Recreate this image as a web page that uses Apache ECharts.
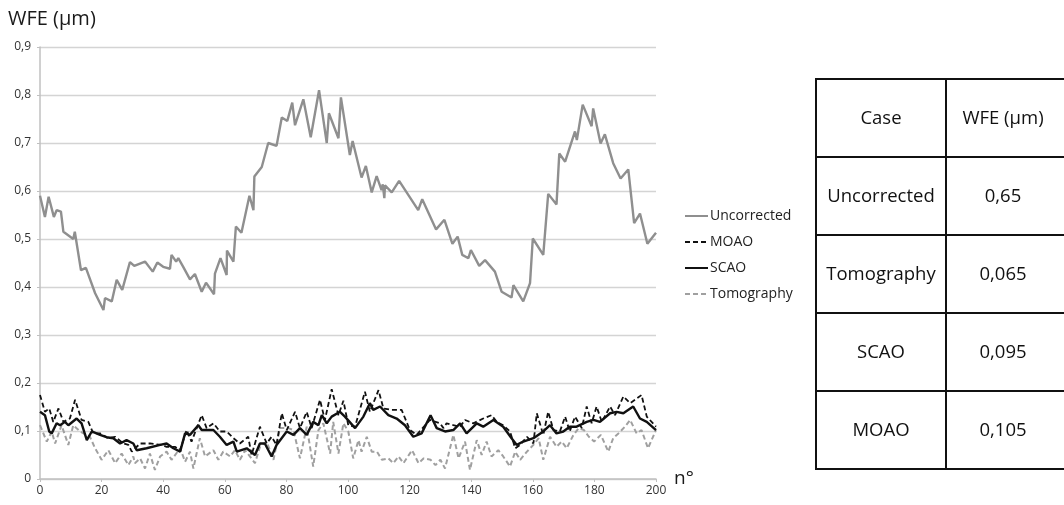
<!DOCTYPE html>
<html>
<head>
<meta charset="utf-8">
<script src="https://cdn.jsdelivr.net/npm/echarts@6/dist/echarts.min.js"></script>
<style>
html,body{margin:0;padding:0;background:#fff;}
#chart{width:1064px;height:505px;}
</style>
</head>
<body>
<div id="chart"></div>
<script>
// ---- data ----
var seriesNames = ['Uncorrected', 'MOAO', 'SCAO', 'Tomography'];
var xTicks = [0, 20, 40, 60, 80, 100, 120, 140, 160, 180, 200];
var yTicks = [0, 0.1, 0.2, 0.3, 0.4, 0.5, 0.6, 0.7, 0.8, 0.9];

var uncorrectedX = [0,1.6,2.8,4.5,5.4,6.8,7.6,10.8,11.3,13.3,14.9,17.9,20.6,21.1,23.3,24.9,26.7,29.2,30.6,34.1,36.6,38.1,40,42.2,42.7,44.2,44.9,46.5,48.7,50.3,52.5,53.9,56.5,56.8,58.6,60.6,60.7,62.8,63.6,65.4,68,69.3,69.6,72,74.1,76.8,78.5,80.3,81.9,82.8,85.5,87.9,90.6,93.1,93.8,96.9,97.7,100.6,101.5,104.4,105.8,107.7,109.3,110.9,111.3,111.8,112,114.2,116.6,122.8,124.1,128.6,131.3,133.9,135.6,137.1,139.1,139.9,142.6,144.5,147.7,149.9,153.1,153.7,156.9,159.1,160,163.4,165,167.7,168.6,170.5,173.7,174.3,176.2,179.1,179.6,182,183.4,186.1,188.5,191,192.9,194.8,197.2,200];
var uncorrectedY = [0.59,0.546,0.588,0.546,0.56,0.557,0.515,0.50,0.515,0.435,0.44,0.387,0.352,0.377,0.37,0.415,0.394,0.452,0.444,0.453,0.432,0.451,0.442,0.438,0.467,0.453,0.46,0.442,0.416,0.427,0.39,0.409,0.385,0.428,0.46,0.425,0.476,0.453,0.526,0.513,0.59,0.56,0.63,0.65,0.70,0.694,0.753,0.746,0.784,0.737,0.791,0.712,0.81,0.70,0.762,0.71,0.795,0.675,0.704,0.628,0.652,0.597,0.631,0.602,0.614,0.585,0.612,0.597,0.621,0.56,0.583,0.52,0.54,0.49,0.505,0.467,0.46,0.477,0.444,0.456,0.432,0.39,0.378,0.404,0.37,0.408,0.501,0.467,0.594,0.572,0.678,0.661,0.724,0.706,0.78,0.735,0.772,0.699,0.718,0.658,0.626,0.645,0.533,0.553,0.49,0.513];

var moaoX = [0,1.6,3,4.3,6,7.6,9.7,11.4,13.5,15.7,17.3,19.5,22.2,24.4,27.1,28.7,29.8,32.5,35.7,39.5,41.1,43.8,45.5,47.6,49.2,52.5,54.1,56.3,58.4,60.6,62.8,64.9,67.6,68.7,71.4,73.6,75.2,76.8,78.5,80.1,82.8,84.4,86.6,88.2,90.9,92.5,94.7,96.9,98.5,100.1,102.3,105.5,107.1,109.9,111.5,114.2,117.4,120.1,122.3,126.6,129.9,131,132,134.2,136.4,138,140.7,143.9,146.6,148.3,150.4,152.6,154.3,155.9,158.1,160.2,161.3,163.4,165,166.7,168.8,170.5,172,173.7,175.9,177.5,179.1,180.7,182.4,185.1,186.7,189.4,191.6,193.2,195.3,197,200];
var moaoY = [0.175,0.14,0.147,0.119,0.147,0.119,0.126,0.165,0.123,0.119,0.095,0.095,0.085,0.088,0.074,0.071,0.057,0.074,0.074,0.071,0.067,0.067,0.06,0.102,0.078,0.133,0.106,0.116,0.099,0.099,0.085,0.074,0.088,0.05,0.109,0.074,0.088,0.071,0.137,0.102,0.14,0.106,0.14,0.106,0.165,0.123,0.187,0.133,0.163,0.112,0.109,0.182,0.14,0.185,0.147,0.144,0.144,0.102,0.092,0.123,0.116,0.106,0.116,0.112,0.109,0.123,0.116,0.126,0.133,0.119,0.112,0.099,0.064,0.071,0.088,0.074,0.137,0.092,0.14,0.102,0.099,0.13,0.099,0.13,0.106,0.151,0.116,0.151,0.119,0.151,0.133,0.172,0.158,0.165,0.175,0.13,0.109];

var scaoX = [0,1.6,3,3.8,5.4,6.5,8.1,9.2,11.9,13.5,15.2,16.8,19.5,21.6,23.8,26,28.1,30.3,31.4,34.6,39,41.1,43.3,45.5,47.1,48.7,51.4,52.5,56.3,58.4,60.6,62.8,63.9,67.1,69.8,71.4,73,75.2,76.8,80.1,82.3,84.4,86.6,88.7,90.4,91.5,93.1,94.7,97.4,99,102.3,105,107.1,108.2,110.4,113.1,115.8,118.5,121.2,123.9,126.8,128.8,131.5,134.2,136.4,138.5,141.8,143.9,147.2,150.4,153.1,154.8,156.9,160.2,163.4,165.6,167.7,169.9,172,174.2,177.5,179.7,181.8,185.1,187.2,189.4,192.6,194.8,197,200];
var scaoY = [0.14,0.133,0.099,0.095,0.116,0.112,0.119,0.112,0.126,0.116,0.081,0.099,0.092,0.087,0.085,0.074,0.081,0.074,0.06,0.064,0.071,0.074,0.064,0.057,0.095,0.092,0.112,0.102,0.102,0.088,0.071,0.078,0.057,0.064,0.05,0.074,0.074,0.047,0.071,0.099,0.092,0.106,0.092,0.119,0.112,0.133,0.116,0.13,0.14,0.13,0.106,0.13,0.158,0.144,0.151,0.133,0.126,0.112,0.088,0.095,0.133,0.106,0.099,0.102,0.116,0.095,0.116,0.109,0.123,0.109,0.085,0.071,0.078,0.085,0.099,0.112,0.095,0.099,0.109,0.109,0.119,0.123,0.119,0.137,0.14,0.137,0.151,0.126,0.119,0.102];

var tomoX = [0,2.2,3.8,4.9,7,9.2,10.8,13,16.2,17.9,20,22.2,24.4,26.5,28.7,30.3,30.8,32.5,34.1,35.7,37.3,39,41.1,42.7,45.5,47.1,48.7,49.8,51.9,53.6,56.3,57.9,59.5,61.7,63.3,64.9,66.6,69.8,71.4,73.6,75.8,77.9,80.6,82.3,84.4,86.6,88.7,90.4,92,94.2,95.2,96.9,98.5,100.1,101.7,103.4,104.4,106.1,107.7,109.4,111,113.1,114.7,116.4,118,120.8,122.9,124.6,126.8,128.4,130,131.5,134.2,135.9,138,139.6,141.8,143.4,145,146.6,148.8,150.4,152.6,154.3,155.9,158.1,160.2,161.9,163.4,165.6,167.7,169.4,171,173.2,174.9,176.6,178.2,179.9,182.1,184.5,186.1,187.8,189.9,191.6,193.7,195.3,197.4,200];
var tomoY = [0.112,0.078,0.099,0.074,0.112,0.071,0.112,0.099,0.088,0.064,0.04,0.06,0.033,0.053,0.029,0.047,0.033,0.043,0.022,0.053,0.019,0.047,0.057,0.04,0.064,0.036,0.057,0.022,0.085,0.047,0.06,0.04,0.057,0.047,0.06,0.04,0.06,0.033,0.067,0.078,0.04,0.106,0.106,0.102,0.043,0.109,0.026,0.102,0.116,0.053,0.119,0.053,0.116,0.099,0.043,0.081,0.057,0.088,0.057,0.057,0.04,0.043,0.033,0.047,0.033,0.06,0.033,0.043,0.04,0.029,0.04,0.022,0.092,0.043,0.078,0.019,0.081,0.05,0.078,0.047,0.06,0.047,0.026,0.057,0.04,0.057,0.071,0.085,0.04,0.088,0.067,0.078,0.064,0.092,0.106,0.102,0.088,0.078,0.092,0.057,0.085,0.095,0.109,0.123,0.095,0.102,0.064,0.102];

var tableHeader = ['Case', 'WFE (µm)'];
var tableCases = ['Uncorrected', 'Tomography', 'SCAO', 'MOAO'];
var tableWFE = ['0,65', '0,065', '0,095', '0,105'];

// ---- build ----
function zip(xs, ys) { return xs.map(function (x, i) { return [x, ys[i]]; }); }
var FONT = 'Open Sans';

var chart = echarts.init(document.getElementById('chart'), null, { renderer: 'canvas' });

// table graphics
var tL = 816, tM = 946, tR = 1068, tTop = 79, rowH = 78;
var nRows = tableCases.length + 1;
var g = [];
var bw = 2, bc = '#111';
for (var r = 0; r <= nRows; r++) {
  var yy = tTop + r * rowH;
  g.push({ type: 'line', shape: { x1: tL - 1, y1: yy, x2: tR, y2: yy }, style: { stroke: bc, lineWidth: bw } });
}
[tL, tM, tR].forEach(function (xx) {
  g.push({ type: 'line', shape: { x1: xx, y1: tTop, x2: xx, y2: tTop + nRows * rowH }, style: { stroke: bc, lineWidth: bw } });
});
var rowsText = [tableHeader].concat(tableCases.map(function (c, i) { return [c, tableWFE[i]]; }));
var c1 = (tL + tM) / 2, c2 = 1003;
rowsText.forEach(function (row, i) {
  var cy = tTop + i * rowH + rowH / 2 + 1;
  g.push({ type: 'text', x: c1, y: cy, style: { text: row[0], fill: '#111', font: '18.5px "' + FONT + '"', textAlign: 'center', textVerticalAlign: 'middle' } });
  g.push({ type: 'text', x: c2, y: cy, style: { text: row[1], fill: '#111', font: '18.5px "' + FONT + '"', textAlign: 'center', textVerticalAlign: 'middle' } });
});
// title
g.push({ type: 'text', x: 8, y: 19, style: { text: 'WFE (µm)', fill: '#1a1a1a', font: '20px "' + FONT + '"', textAlign: 'left', textVerticalAlign: 'middle' } });

function fmt(v) {
  if (v === 0) return '0';
  return v.toFixed(1).replace('.', ',');
}

var option = {
  backgroundColor: '#fff',
  animation: false,
  textStyle: { fontFamily: FONT },
  grid: { left: 40, right: 408, top: 47, bottom: 26, containLabel: false },
  legend: {
    orient: 'vertical',
    left: 679,
    top: 204,
    itemWidth: 23,
    itemHeight: 14,
    itemGap: 12,
    itemStyle: { opacity: 0 },
    data: seriesNames,
    textStyle: { fontFamily: FONT, fontSize: 14, color: '#222', padding: [0, 0, 0, -3] }
  },
  xAxis: {
    type: 'value',
    min: xTicks[0],
    max: xTicks[xTicks.length - 1],
    interval: 20,
    name: 'n°',
    nameLocation: 'end',
    nameGap: 18,
    nameTextStyle: { fontFamily: FONT, fontSize: 19, color: '#1a1a1a', verticalAlign: 'middle' },
    axisLine: { show: true, lineStyle: { color: '#c0c0c0', width: 1.5 } },
    axisTick: { show: true, length: 3, lineStyle: { color: '#c0c0c0' } },
    axisLabel: { fontFamily: FONT, fontSize: 12, color: '#333', margin: 6 },
    splitLine: { show: false }
  },
  yAxis: {
    type: 'value',
    min: yTicks[0],
    max: yTicks[yTicks.length - 1],
    interval: 0.1,
    axisLine: { show: true, lineStyle: { color: '#c0c0c0', width: 1.5 } },
    axisTick: { show: true, length: 3, lineStyle: { color: '#c0c0c0' } },
    axisLabel: { fontFamily: FONT, fontSize: 12, color: '#333', margin: 9, formatter: fmt },
    splitLine: { show: true, lineStyle: { color: '#d4d4d4', width: 1.3 } }
  },
  series: [
    { name: 'Uncorrected', type: 'line', data: zip(uncorrectedX, uncorrectedY), symbol: 'none',
      lineStyle: { color: '#8f8f8f', width: 2.4 }, itemStyle: { color: '#8f8f8f' }, z: 2 },
    { name: 'MOAO', type: 'line', data: zip(moaoX, moaoY), symbol: 'none',
      lineStyle: { color: '#111', width: 1.8, type: [5, 3] }, itemStyle: { color: '#111' }, z: 3 },
    { name: 'SCAO', type: 'line', data: zip(scaoX, scaoY), symbol: 'none',
      lineStyle: { color: '#111', width: 2.4 }, itemStyle: { color: '#111' }, z: 4 },
    { name: 'Tomography', type: 'line', data: zip(tomoX, tomoY), symbol: 'none',
      lineStyle: { color: '#a0a0a0', width: 2, type: [5, 3] }, itemStyle: { color: '#a0a0a0' }, z: 2 }
  ],
  graphic: g
};
chart.setOption(option);
</script>
</body>
</html>
